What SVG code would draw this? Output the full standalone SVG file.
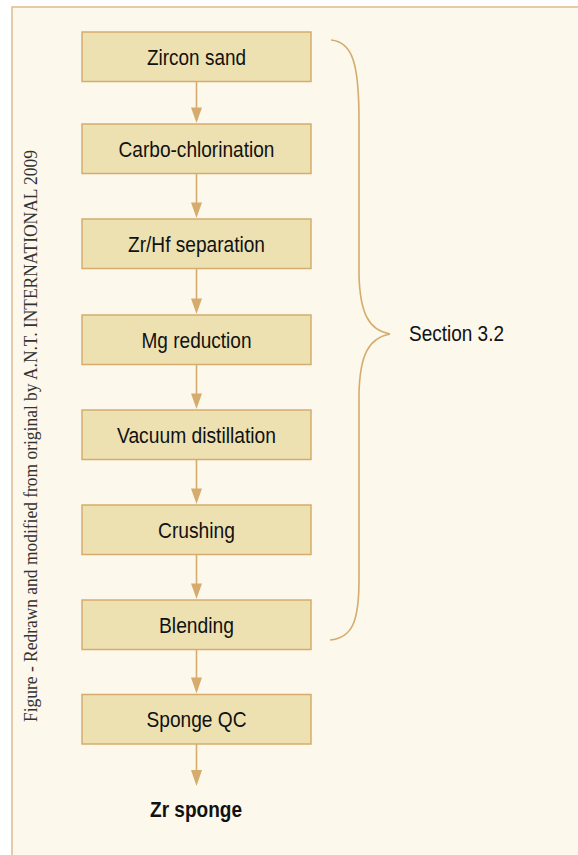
<svg xmlns="http://www.w3.org/2000/svg" width="578" height="855" viewBox="0 0 578 855">
<style>
.box{fill:#EDE1B1;stroke:#D5AC6E;stroke-width:1.5}
.lbl{font-family:"Liberation Sans Narrow","Liberation Sans",Arial,sans-serif;font-size:22.5px;fill:#111;text-anchor:middle}
.conn line{stroke:#D5AC6E;stroke-width:1.6}
.conn polygon{fill:#D5AC6E}
</style>
<rect x="0" y="0" width="578" height="855" fill="#fff"/>
<rect x="12" y="7" width="580" height="860" fill="#FCF8EB" stroke="#DDBB8C" stroke-width="1.5"/>
<text transform="translate(37,722) rotate(-90)" font-family="'Liberation Serif','Times New Roman',serif" font-size="18" fill="#333" textLength="572" lengthAdjust="spacingAndGlyphs">Figure - Redrawn and modified from original by A.N.T. INTERNATIONAL 2009</text>
<g id="n1"><rect class="box" x="82" y="32" width="229" height="49.5"/><text class="lbl" x="196.5" y="64.5" textLength="99" lengthAdjust="spacingAndGlyphs">Zircon sand</text></g>
<g id="n2"><rect class="box" x="82" y="124" width="229" height="49.5"/><text class="lbl" x="196.5" y="156.5" textLength="156" lengthAdjust="spacingAndGlyphs">Carbo-chlorination</text></g>
<g id="n3"><rect class="box" x="82" y="219" width="229" height="49.5"/><text class="lbl" x="196.5" y="251.5" textLength="137" lengthAdjust="spacingAndGlyphs">Zr/Hf separation</text></g>
<g id="n4"><rect class="box" x="82" y="315" width="229" height="49.5"/><text class="lbl" x="196.5" y="347.5" textLength="110" lengthAdjust="spacingAndGlyphs">Mg reduction</text></g>
<g id="n5"><rect class="box" x="82" y="410" width="229" height="49.5"/><text class="lbl" x="196.5" y="442.5" textLength="159" lengthAdjust="spacingAndGlyphs">Vacuum distillation</text></g>
<g id="n6"><rect class="box" x="82" y="505" width="229" height="49.5"/><text class="lbl" x="196.5" y="537.5" textLength="77" lengthAdjust="spacingAndGlyphs">Crushing</text></g>
<g id="n7"><rect class="box" x="82" y="600" width="229" height="49.5"/><text class="lbl" x="196.5" y="632.5" textLength="75" lengthAdjust="spacingAndGlyphs">Blending</text></g>
<g id="n8"><rect class="box" x="82" y="694.5" width="229" height="49.5"/><text class="lbl" x="196.5" y="727" textLength="100" lengthAdjust="spacingAndGlyphs">Sponge QC</text></g>
<g id="n9"><text class="lbl" x="196" y="817" font-weight="bold" textLength="92" lengthAdjust="spacingAndGlyphs">Zr sponge</text></g>
<g id="brace"><path d="M331,40 C352,42 359,62 359,120 L359,275 C360,312 368,330 390,334 C368,338 360,356 359,393 L359,580 C359,622 352,638 330,640" fill="none" stroke="#D5AC6E" stroke-width="1.6"/><text class="lbl" x="456.5" y="341" textLength="95" lengthAdjust="spacingAndGlyphs">Section 3.2</text></g>
<g class="conn" id="connectors">
<line x1="196.5" y1="81.5" x2="196.5" y2="108"/><polygon points="191,107.5 202,107.5 196.5,123"/>
<line x1="196.5" y1="173.5" x2="196.5" y2="203"/><polygon points="191,202.5 202,202.5 196.5,218"/>
<line x1="196.5" y1="268.5" x2="196.5" y2="299"/><polygon points="191,298.5 202,298.5 196.5,314"/>
<line x1="196.5" y1="364.5" x2="196.5" y2="394"/><polygon points="191,393.5 202,393.5 196.5,409"/>
<line x1="196.5" y1="459.5" x2="196.5" y2="489"/><polygon points="191,488.5 202,488.5 196.5,504"/>
<line x1="196.5" y1="554.5" x2="196.5" y2="584"/><polygon points="191,583.5 202,583.5 196.5,599"/>
<line x1="196.5" y1="649.5" x2="196.5" y2="678"/><polygon points="191,677.5 202,677.5 196.5,693.5"/>
<line x1="196.5" y1="744" x2="196.5" y2="771"/><polygon points="191,770 202,770 196.5,786"/>
</g>
</svg>
